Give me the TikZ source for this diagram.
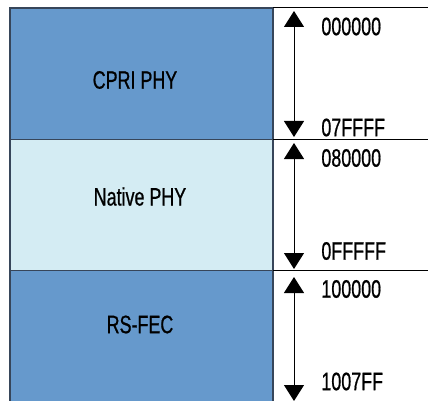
\documentclass[tikz,border=0pt]{standalone}
\usepackage{fontspec}
\setmainfont{Liberation Sans}[FakeStretch=0.71, FakeBold=0.7]
\usetikzlibrary{arrows.meta}

\definecolor{phyblue}{RGB}{102,153,204}
\definecolor{phylight}{RGB}{212,236,243}
\definecolor{phyedge}{RGB}{55,70,90}

\begin{document}
\begin{tikzpicture}[
    x=0.5pt, y=-0.5pt,
    blk/.style={draw=phyedge, line width=0.6pt},
    sep/.style={draw=black, line width=0.5pt},
    span/.style={{Triangle[width=10pt,length=8pt]}-{Triangle[width=10pt,length=8pt]},
                 line width=0.5pt},
    lbl/.style={font=\fontsize{12.6}{15}\selectfont, inner sep=0pt},
    addr/.style={lbl, anchor=west},
]
\clip (0,0) rectangle (428,401);

%% -- Memory blocks ------------------------------------------------------------
\draw[blk, fill=phyblue]  (10,8)     rectangle (273,139.5);
\draw[blk, fill=phylight] (10,139.5) rectangle (273,270.5);
\draw[blk, fill=phyblue]  (10,270.5) rectangle (273,410);

\node[lbl] (cpri)   at (135,80)    {CPRI PHY};
\node[lbl] (native) at (140,196.5) {Native PHY};
\node[lbl] (rsfec)  at (140,324.5) {RS-FEC};

% Row separators on the address side
\draw[sep] (273,8)     -- (440,8);
\draw[sep] (273,139.5) -- (440,139.5);
\draw[sep] (273,270.5) -- (440,270.5);

%% -- Address ranges -----------------------------------------------------------
\coordinate (t1) at (294,11);  \coordinate (b1) at (294,137);
\coordinate (t2) at (294,143); \coordinate (b2) at (294,269);
\coordinate (t3) at (294,277); \coordinate (b3) at (294,401);

\draw[span] (t1) -- (b1);
\draw[span] (t2) -- (b2);
\draw[span] (t3) -- (b3);

\node[addr] (s1) at (321,26.5)  {000000};
\node[addr] (e1) at (321,127.5) {07FFFF};
\node[addr] (s2) at (321,158)   {080000};
\node[addr] (e2) at (321,251)   {0FFFFF};
\node[addr] (s3) at (321,289)   {100000};
\node[addr] (e3) at (321,381.5) {1007FF};

\end{tikzpicture}
\end{document}
